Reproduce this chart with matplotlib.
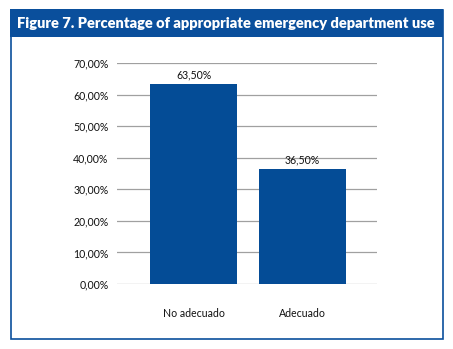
import matplotlib.pyplot as plt
from matplotlib.patches import Rectangle
from matplotlib.ticker import FuncFormatter

categories = ["No adecuado", "Adecuado"]
values = [63.5, 36.5]
yticks = [0, 10, 20, 30, 40, 50, 60, 70]
title = "Figure 7. Percentage of appropriate emergency department use"

blue = "#0a4f9c"
barblue = "#044c96"

plt.rcParams['font.family'] = ['Lato', 'DejaVu Sans']

W, H = 453, 349
fig = plt.figure(figsize=(W / 100, H / 100), dpi=100)

# outer frame + title bar (pixel coords -> figure fraction)
def fr(x0, y0, x1, y1):
    return (x0 / W, 1 - y1 / H, (x1 - x0) / W, (y1 - y0) / H)

x, y, w, h = fr(10.5, 10, 442.5, 338.5)
fig.patches.append(Rectangle((x, y), w, h, transform=fig.transFigure,
                             facecolor="white", edgecolor=blue, lw=1.2, zorder=-2))
x, y, w, h = fr(10, 9, 443, 37)
fig.patches.append(Rectangle((x, y), w, h, transform=fig.transFigure,
                             facecolor=blue, edgecolor="none", zorder=-1))
fig.text(226 / W, 1 - 23.5 / H, title, color="white", fontsize=10.5,
         fontweight="heavy", ha="center", va="center")

# plot area
x, y, w, h = fr(117, 63, 377, 284)
ax = fig.add_axes([x, y, w, h])
ax.patch.set_visible(False)
pos = list(range(len(categories)))
bars = ax.bar(pos, values, width=0.8, color=barblue, zorder=3)
ax.set_xlim(-0.705, 1.69)
ax.set_ylim(0, 70)
ax.set_yticks(yticks)
ax.yaxis.set_major_formatter(FuncFormatter(lambda v, p: f"{v:.2f}%".replace(".", ",")))
ax.grid(axis="y", color="#a0a0a0", lw=0.9, zorder=0)
for s in ax.spines.values():
    s.set_visible(False)
ax.tick_params(axis="y", length=0, pad=6, labelsize=7.6, colors="#111111")
ax.set_xticks(pos)
ax.set_xticklabels(categories)
ax.tick_params(axis="x", length=0, pad=17, labelsize=7.6, colors="#111111")
for b, v in zip(bars, values):
    ax.annotate(f"{v:.2f}%".replace(".", ","), (b.get_x() + b.get_width() / 2, v),
                xytext=(0, 4), textcoords="offset points", ha="center",
                fontsize=7.6, color="#111111")

fig.savefig("out.png", dpi=100)
